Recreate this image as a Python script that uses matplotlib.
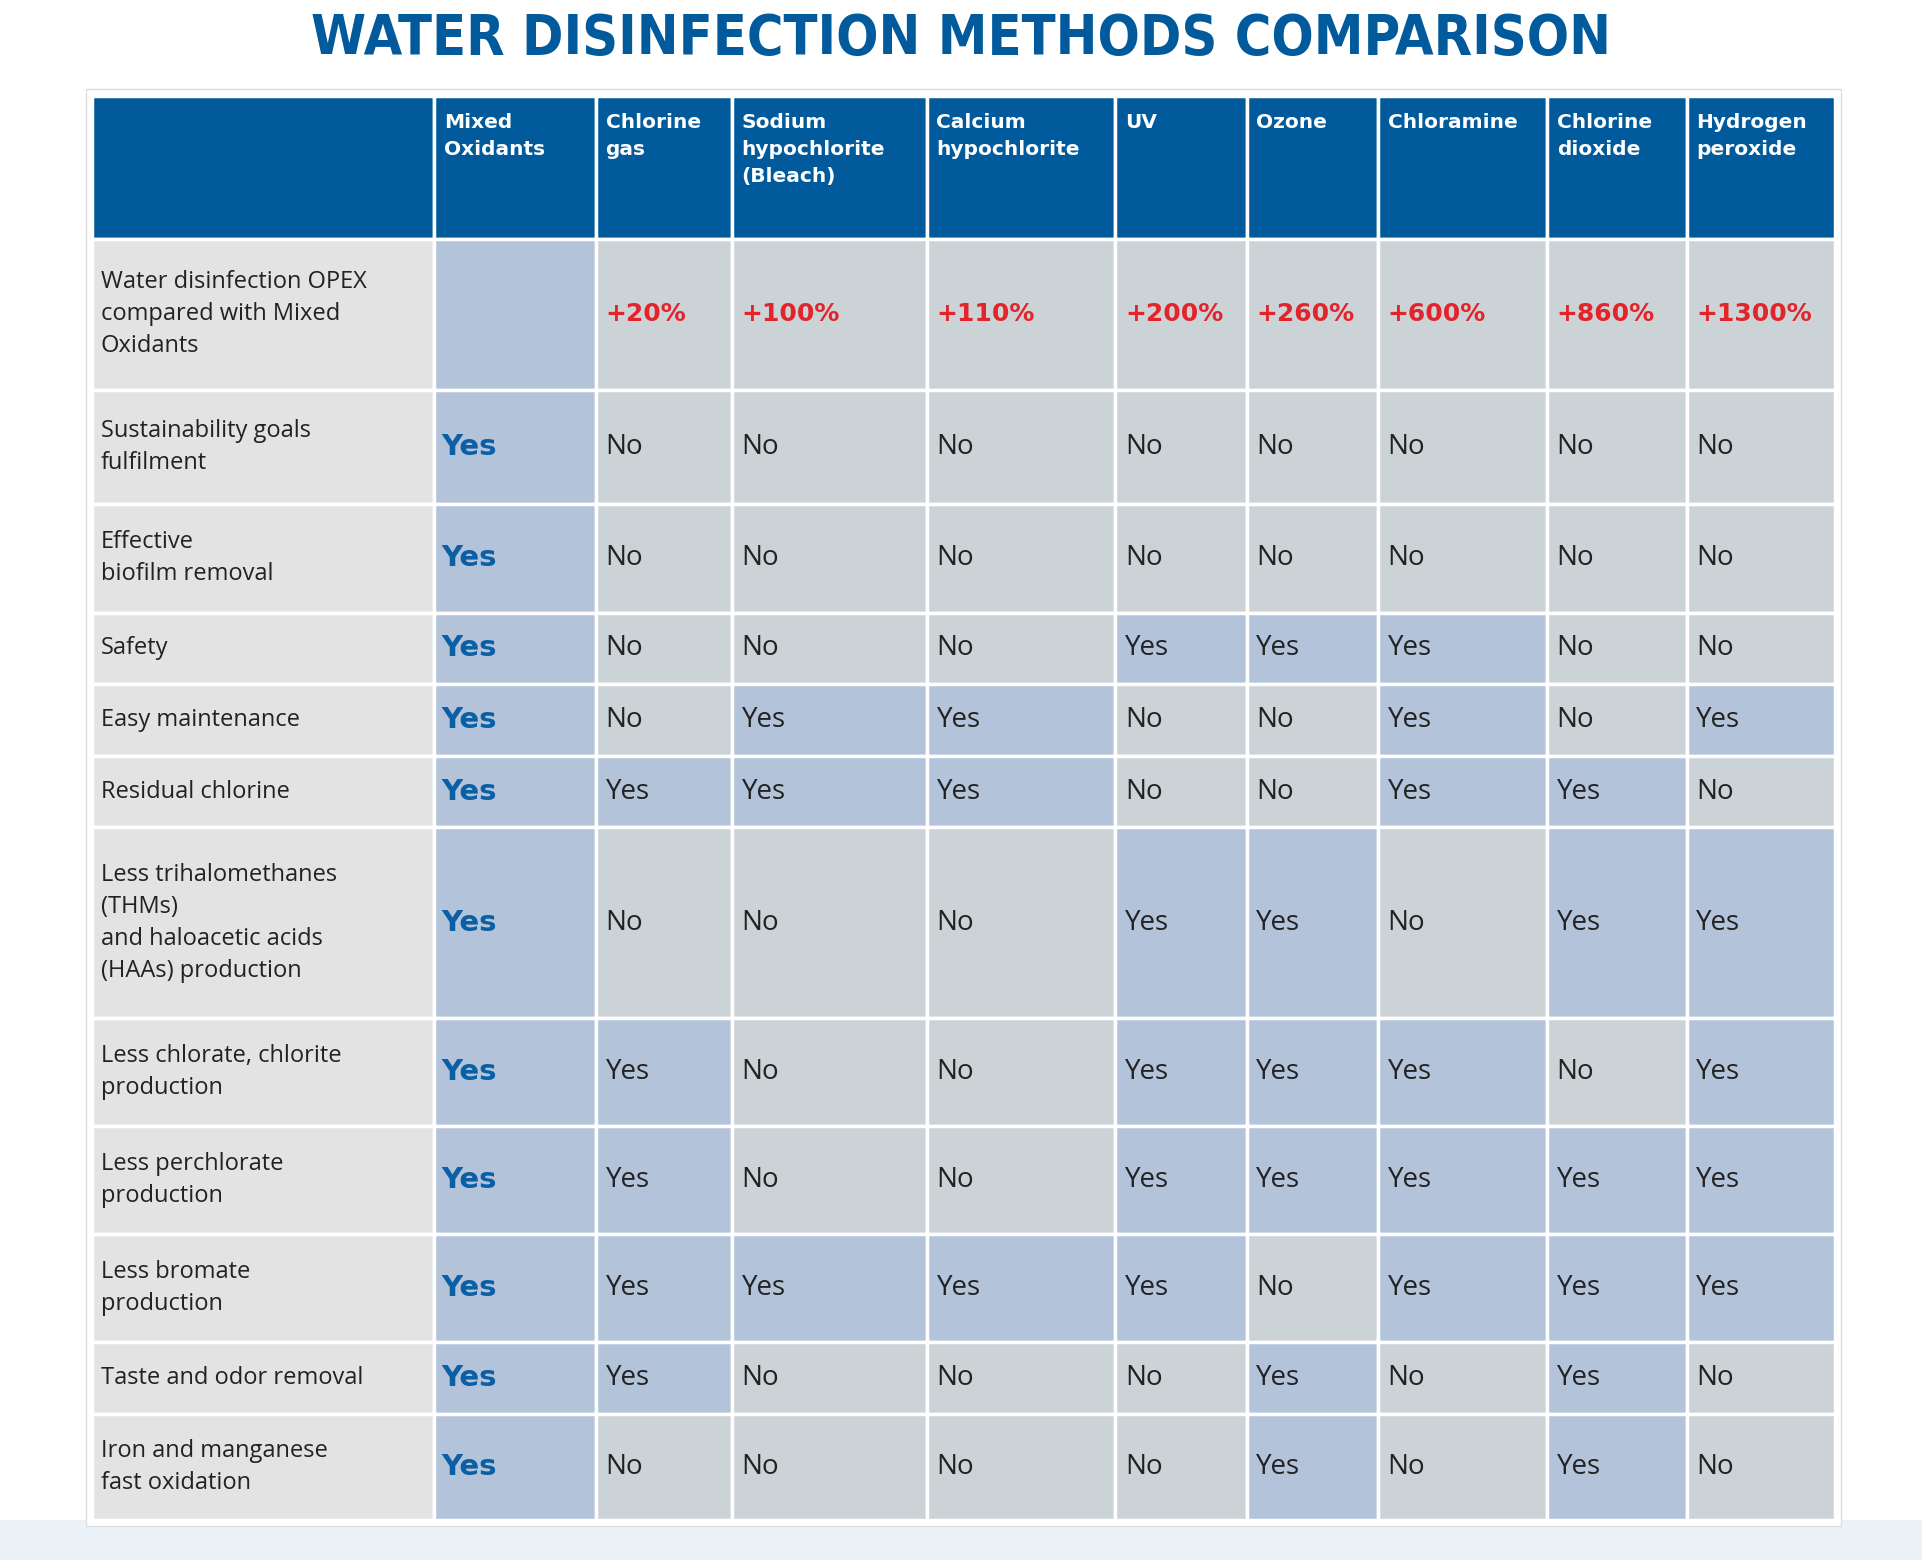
import matplotlib
matplotlib.use("Agg")
import matplotlib.pyplot as plt
from matplotlib.patches import Rectangle

methods = ["Mixed\nOxidants", "Chlorine\ngas", "Sodium\nhypochlorite\n(Bleach)", "Calcium\nhypochlorite",
           "UV", "Ozone", "Chloramine", "Chlorine\ndioxide", "Hydrogen\nperoxide"]
opex = ["", "+20%", "+100%", "+110%", "+200%", "+260%", "+600%", "+860%", "+1300%"]
criteria = ["Sustainability goals\nfulfilment", "Effective\nbiofilm removal", "Safety", "Easy maintenance",
            "Residual chlorine", "Less trihalomethanes\n(THMs)\nand haloacetic acids\n(HAAs) production",
            "Less chlorate, chlorite\nproduction", "Less perchlorate\nproduction", "Less bromate\nproduction",
            "Taste and odor removal", "Iron and manganese\nfast oxidation"]
Y, N = "Yes", "No"
values = [
    [Y, N, N, N, N, N, N, N, N],
    [Y, N, N, N, N, N, N, N, N],
    [Y, N, N, N, Y, Y, Y, N, N],
    [Y, N, Y, Y, N, N, Y, N, Y],
    [Y, Y, Y, Y, N, N, Y, Y, N],
    [Y, N, N, N, Y, Y, N, Y, Y],
    [Y, Y, N, N, Y, Y, Y, N, Y],
    [Y, Y, N, N, Y, Y, Y, Y, Y],
    [Y, Y, Y, Y, Y, N, Y, Y, Y],
    [Y, Y, N, N, N, Y, N, Y, N],
    [Y, N, N, N, N, Y, N, Y, N],
]

xb = [75, 354, 486, 597, 756, 910, 1017, 1124, 1262, 1376, 1497]
yb = [78, 195, 318, 411, 500, 558, 617, 675, 831, 919, 1007, 1095, 1154, 1240]

HEAD = "#005a9c"; BLUE = "#b3c3da"; GRAY = "#cbd3d6"; FIRST = "#e3e3e3"
TXT = "#222222"; RED = "#e3242b"; YESB = "#0b5fa5"

fig = plt.figure(figsize=(19.22, 15.6), dpi=100)
ax = fig.add_axes([0, 0, 1, 1])
ax.set_xlim(0, 1568); ax.set_ylim(1273, 0); ax.axis("off")
fig.patch.set_facecolor("#ffffff")
# faint background swirl band
ax.add_patch(Rectangle((0, 1240), 1568, 40, color="#eaf1f7", zorder=0))

ax.text(784, 32, "WATER DISINFECTION METHODS COMPARISON", ha="center", va="center",
        fontsize=40, fontweight="bold", color=HEAD, family=["DejaVu Sans"], fontstretch="condensed")

ax.add_patch(Rectangle((70, 73), 1432, 1172, facecolor="white", edgecolor="#dddddd", lw=1, zorder=1))

def cell(c, r, color):
    ax.add_patch(Rectangle((xb[c], yb[r]), xb[c+1]-xb[c], yb[r+1]-yb[r], facecolor=color,
                           edgecolor="white", lw=2.5, zorder=2))

# header
for c in range(10):
    cell(c, 0, HEAD)
for j, m in enumerate(methods):
    ax.text(xb[j+1]+8, yb[0]+14, m, ha="left", va="top", fontsize=14.5, fontweight="bold",
            color="white", family=["Liberation Sans Narrow", "DejaVu Sans"], linespacing=1.55, zorder=3)

rows = [("Water disinfection OPEX\ncompared with Mixed\nOxidants", None)] + list(zip(criteria, values))
for i, (lab, vals) in enumerate(rows):
    r = i + 1
    cy = (yb[r] + yb[r+1]) / 2
    cell(0, r, FIRST)
    ax.text(xb[0]+7, cy, lab, ha="left", va="center", fontsize=17, color=TXT,
            family=["Open Sans", "DejaVu Sans"], linespacing=1.45, zorder=3)
    for j in range(9):
        if vals is None:
            cell(j+1, r, BLUE if j == 0 else GRAY)
            if opex[j]:
                ax.text(xb[j+1]+8, cy, opex[j], ha="left", va="center", fontsize=18, fontweight="bold",
                        color=RED, family=["Liberation Sans Narrow", "DejaVu Sans"], zorder=3)
            continue
        v = vals[j]
        cell(j+1, r, BLUE if v == Y else GRAY)
        if j == 0:
            ax.text(xb[j+1]+6, cy, v, ha="left", va="center", fontsize=21, fontweight="bold",
                    color=YESB, family=["Liberation Sans Narrow", "DejaVu Sans"], zorder=3)
        else:
            ax.text(xb[j+1]+8, cy, v, ha="left", va="center", fontsize=20, color=TXT,
                    family=["Open Sans", "DejaVu Sans"], zorder=3)

fig.savefig("out.png", dpi=100)
